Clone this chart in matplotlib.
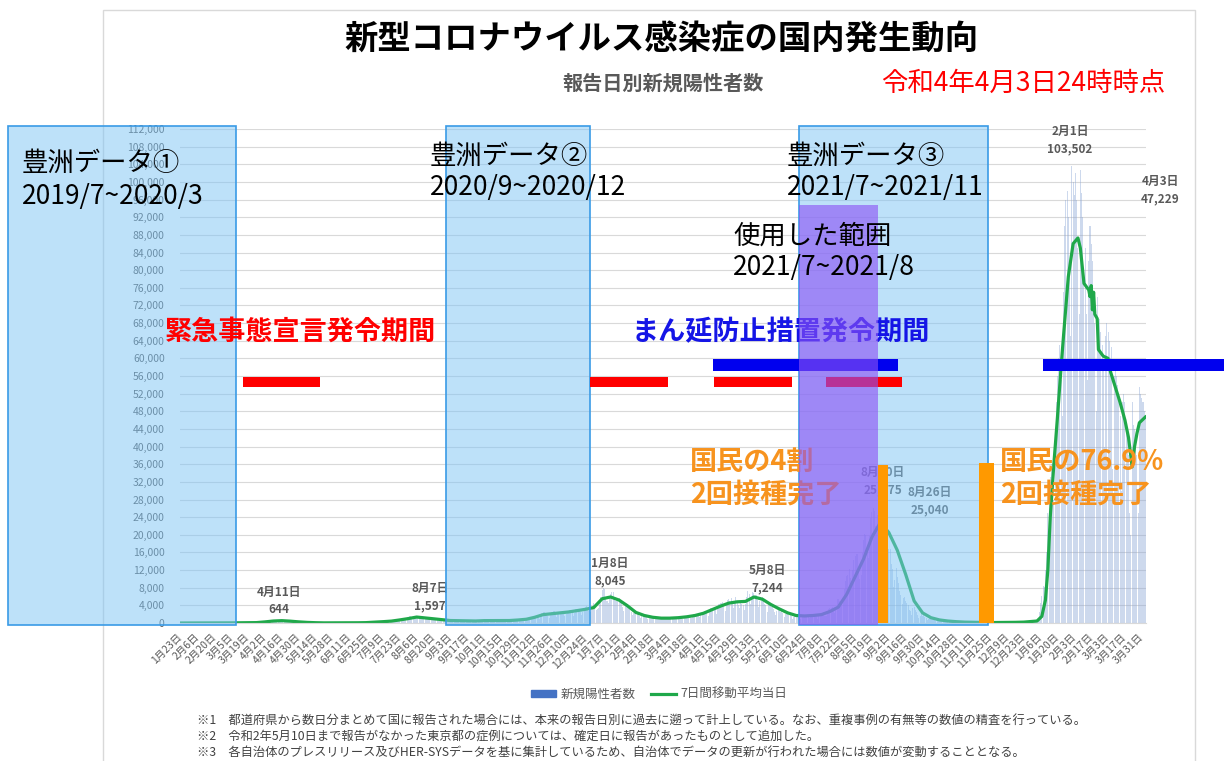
import numpy as np
import pandas as pd
import matplotlib
matplotlib.use('Agg')
import matplotlib.pyplot as plt
import matplotlib.transforms as mtransforms
from matplotlib.patches import Rectangle, Patch
from matplotlib.lines import Line2D
from matplotlib.ticker import FuncFormatter

plt.rcParams['font.family'] = ['Noto Sans CJK JP', 'DejaVu Sans']

# ---- daily new positive cases (報告日別新規陽性者数), 2020-01-23 .. 2022-04-03
cases_2020 = (
    [0, 1, 1, 0, 2, 1, 2, 3, 1] +
    [3, 2, 0, 1, 0, 1, 0, 3, 1, 0, 1, 2, 4, 1, 2, 1, 3, 5, 6, 4, 9, 12, 10, 8, 13, 20, 15, 10, 12] +
    [14, 20, 15, 25, 30, 35, 40, 38, 30, 35, 50, 45, 60, 40, 30, 55, 40, 38, 35, 45, 55, 40, 55, 90, 95, 100, 110, 200, 180, 100, 250] +
    [230, 260, 350, 320, 380, 280, 360, 510, 540, 580, 644, 480, 400, 500, 550, 580, 600, 560, 460, 370, 400, 390, 420, 440, 360, 280, 220, 230, 250, 180] +
    [170, 280, 200, 120, 130, 110, 100, 90, 110, 70, 80, 90, 60, 80, 70, 40, 50, 30, 25, 40, 30, 25, 20, 20, 35, 35, 30, 50, 40, 40, 30] +
    [25, 40, 35, 40, 45, 30, 45, 40, 45, 55, 40, 40, 45, 45, 60, 40, 70, 45, 60, 70, 55, 70, 50, 80, 90, 110, 100, 115, 85, 125] +
    [130, 150, 260, 270, 210, 180, 200, 300, 360, 430, 420, 400, 250, 330, 450, 610, 660, 670, 510, 420, 670, 790, 980, 780, 840, 600, 590, 980, 1260, 1300, 1580] +
    [1530, 1330, 1000, 970, 1360, 1480, 1597, 1430, 1030, 800, 1000, 1200, 1300, 1100, 1020, 890, 600, 900, 1120, 1100, 1000, 850, 700, 500, 700, 800, 870, 850, 760, 550, 410] +
    [550, 650, 600, 600, 550, 450, 350, 500, 550, 650, 620, 600, 480, 370, 450, 620, 600, 600, 450, 300, 350, 200, 400, 550, 560, 650, 450, 380, 520, 600] +
    [650, 600, 550, 500, 300, 500, 550, 620, 600, 520, 350, 420, 600, 700, 600, 550, 420, 350, 450, 500, 700, 650, 650, 480, 400, 550, 700, 800, 800, 900, 800] +
    [600, 550, 800, 500, 900, 1100, 1200, 1100, 800, 1200, 1550, 1650, 1700, 1700, 1400, 1000, 1700, 2200, 2400, 2400, 2300, 2200, 1500, 1200, 1900, 2500, 2500, 2700, 2000, 1400] +
    [2000, 2400, 2500, 2400, 2500, 2000, 1500, 2100, 2800, 2800, 3000, 2900, 2400, 1700, 2300, 3100, 3200, 2800, 2900, 2400, 1800, 2600, 3200, 3700, 3800, 3200, 2800, 2400, 3000, 3800, 4500]
)
cases_2021 = (
    [3200, 3000, 3100, 3300, 4900, 6000, 7500, 8045, 7800, 6000, 4900, 4500, 5800, 6600, 7100, 7000, 5800, 4900, 4900, 5500, 5700, 5000, 4700, 3600, 2700, 3800, 4000, 3900, 3500, 3300, 2600] +
    [1800, 2300, 2600, 2500, 2400, 2300, 1600, 1200, 1800, 1800, 1600, 1400, 1400, 1000, 1200, 1500, 1600, 1300, 1200, 1300, 1100, 1000, 900, 1100, 1100, 1200, 1100, 1000] +
    [1000, 900, 1200, 1300, 1100, 1200, 1100, 1000, 1300, 1400, 1400, 1300, 1300, 1000, 900, 1200, 1600, 1500, 1500, 1500, 1200, 1100, 1800, 2000, 2000, 2100, 2100, 1800, 1300, 1900, 2100] +
    [2500, 2800, 2700, 2500, 1500, 2600, 3500, 3400, 3500, 3700, 3000, 2100, 3400, 4300, 4600, 4500, 4800, 4100, 2800, 4300, 5300, 5500, 5100, 5600, 4500, 3300, 4800, 5800, 4800, 4000] +
    [3500, 4700, 4300, 4100, 3000, 4400, 6000, 7244, 6500, 4300, 5200, 7000, 6900, 6300, 6400, 5200, 3600, 5000, 5700, 5800, 5300, 4300, 4000, 2600, 4000, 4400, 4100, 3700, 3100, 2500, 1900] +
    [2800, 3000, 2800, 2600, 2700, 2200, 1300, 2000, 2100, 2000, 1900, 1900, 1600, 1000, 1400, 1800, 1600, 1600, 1700, 1500, 1000, 1400, 1700, 1800, 1700, 1700, 1300, 1100, 1500, 1700] +
    [1800, 1900, 1800, 1800, 1000, 1600, 2200, 2200, 2200, 2400, 1700, 1500, 2400, 3200, 3400, 3400, 3700, 3100, 2300, 3700, 5400, 5400, 4900, 4200, 4700, 4700, 7600, 9600, 10700, 10800, 12300] +
    [10100, 8400, 12000, 14200, 15200, 15700, 15700, 12000, 10000, 10800, 15800, 18800, 20200, 20000, 17000, 14700, 19800, 23900, 25100, 25975, 25500, 22000, 21600, 24400, 24900, 25040, 22700, 22700, 19200, 14200, 17300] +
    [20100, 16800, 16700, 13400, 12200, 8200, 9700, 12400, 10400, 9000, 7300, 6300, 4400, 5600, 6000, 5100, 4600, 4100, 3000, 2800, 1800, 3300, 3700, 3000, 2600, 1900, 1100, 1700, 2300, 1600] +
    [1900, 1400, 1100, 600, 1000, 1200, 1200, 1000, 900, 600, 400, 600, 750, 620, 600, 520, 430, 250, 400, 420, 400, 340, 290, 250, 150, 280, 300, 280, 250, 200, 100] +
    [100, 180, 150, 170, 160, 140, 100, 110, 170, 200, 200, 190, 150, 80, 80, 130, 150, 130, 140, 110, 50, 80, 100, 80, 100, 110, 120, 80, 100, 130] +
    [140, 110, 130, 130, 130, 100, 120, 150, 140, 140, 120, 110, 120, 150, 180, 190, 180, 220, 200, 190, 190, 270, 280, 250, 270, 200, 210, 380, 400, 490, 500]
)
cases_2022 = (
    [540, 550, 580, 1100, 2600, 4500, 6200, 8500, 8200, 12000, 16000, 25000, 30000, 33000, 36000, 30000, 28000, 42000, 50000, 56000, 60000, 63000, 55000, 47000, 75000, 90000, 96000, 98000, 92000, 80000, 65000] +
    [103502, 100000, 97000, 102000, 96000, 85000, 70000, 102700, 97500, 92000, 80000, 85000, 70000, 55000, 82000, 90000, 86000, 82000, 75000, 68000, 48000, 74000, 62000, 69000, 66000, 63000, 58000, 40000] +
    [65000, 68000, 66000, 64000, 60000, 62500, 35000, 56000, 58000, 56000, 54000, 51000, 47000, 30000, 50000, 52000, 50000, 45000, 42000, 38000, 25000, 20000, 50000, 45000, 44000, 42000, 38000, 25000, 53500, 52000, 51000] +
    [50000, 48000, 47229]
)

# ---- 7-day moving average (7日間移動平均当日): weekly from 2020-01-23, then denser in 2022
avg_weekly = [0, 1, 2, 3, 8, 14, 30, 45, 40, 90, 250, 450, 530, 420, 260, 140, 70, 30, 35, 40,
              45, 55, 85, 180, 300, 430, 700, 1000, 1350, 1150, 950, 750, 560, 520, 500, 460, 540, 540, 560, 560,
              680, 850, 1300, 1900, 2100, 2300, 2500, 2800, 3100, 3500,
              5500, 5900, 5200, 3900, 2400, 1700, 1300, 1100, 1100, 1200, 1400, 1700, 2200, 3000, 3800, 4500, 4800,
              4900, 5900, 5400, 4200, 3200, 2300, 1700, 1600, 1700, 1900, 2600, 3600, 6500, 10500, 14500, 19500,
              22800, 20500, 16500, 11000, 5000, 2300, 1200, 700, 450, 300, 200, 170, 150, 100, 110, 130, 150, 200, 350]
avg_2022_dates = ['2022-01-03', '2022-01-07', '2022-01-10', '2022-01-12', '2022-01-14', '2022-01-17', '2022-01-20',
                  '2022-01-23', '2022-01-25', '2022-01-29', '2022-02-02', '2022-02-06', '2022-02-08', '2022-02-11',
                  '2022-02-15', '2022-02-16', '2022-02-17', '2022-02-18', '2022-02-19', '2022-02-20', '2022-02-22',
                  '2022-02-23', '2022-02-27', '2022-03-03', '2022-03-05', '2022-03-09', '2022-03-13', '2022-03-17',
                  '2022-03-20', '2022-03-23', '2022-03-25', '2022-03-27', '2022-03-29', '2022-04-03']
avg_2022 = [450, 1500, 5200, 12000, 24000, 36000, 46700, 58000, 65000, 78500, 86000, 87300, 85000, 77000,
            75500, 74000, 76500, 71000, 75000, 70000, 69000, 62000, 60500, 60000, 57000, 53500, 50000, 46000,
            42000, 35400, 40000, 43000, 45400, 46700]

# peaks that carry a data label
peak_dates = ['2020-04-11', '2020-08-07', '2021-01-08', '2021-05-08', '2021-08-20', '2021-08-26', '2022-02-01', '2022-04-03']

# annotation periods
data_spans = [('2019-09-02', '2020-03-09'), ('2020-08-30', '2020-12-28'), ('2021-06-19', '2021-11-23')]
used_span = ('2021-06-19', '2021-08-24')
emergency_spans = [('2020-03-15', '2020-05-18'), ('2020-12-28', '2021-03-03'),
                   ('2021-04-10', '2021-06-14'), ('2021-07-12', '2021-09-13')]
mambou_spans = [('2021-04-09', '2021-09-10'), ('2022-01-08', '2022-06-07')]
vaccine_marks = [('2021-08-24', '2021-09-01', 35800), ('2021-11-16', '2021-11-28', 36300)]

START = pd.Timestamp('2020-01-23')
W, H = 1224, 761


def day(s):
    return (pd.Timestamp(s) - START).days


def fx(px):
    return px / W


def fy(py):
    return 1 - py / H


cases = np.array(cases_2020 + cases_2021 + cases_2022)
days = np.arange(len(cases))
dates = pd.date_range(START, periods=len(cases), freq='D')

wk_days = [(d - START).days for d in pd.date_range(START, periods=len(avg_weekly), freq='7D')]
line_x = wk_days + [day(s) for s in avg_2022_dates]
line_y = avg_weekly + avg_2022

fig = plt.figure(figsize=(12.24, 7.61), dpi=100)
ax = fig.add_axes([fx(180), fy(623), (1146 - 180) / W, (623 - 129) / H])

GRAY = '#595959'
GREEN = '#1fa84a'
BAR = '#4472c4'

ax.bar(days, cases, width=0.85, color='#8aa6d6', alpha=0.42, lw=0, zorder=1)
ax.plot(line_x, line_y, color=GREEN, lw=2.3, zorder=2)

ax.set_xlim(-0.5, len(cases) - 0.5)
ax.set_ylim(0, 112000)
ax.set_yticks(range(0, 112001, 4000))
ax.yaxis.set_major_formatter(FuncFormatter(lambda v, _: f'{int(v):,}'))
tick_idx = days[::14]
ax.set_xticks(tick_idx)
ax.set_xticklabels([f'{dates[i].month}月{dates[i].day}日' for i in tick_idx], rotation=45,
                   ha='right', va='center', rotation_mode='anchor')
ax.tick_params(axis='x', length=0, pad=9, labelsize=7.5, labelcolor=GRAY)
ax.tick_params(axis='y', length=0, pad=11, labelsize=7.5, labelcolor=GRAY)
ax.grid(axis='y', color='#d9d9d9', lw=0.8)
ax.set_axisbelow(True)
for s in ['top', 'right', 'left']:
    ax.spines[s].set_visible(False)
ax.spines['bottom'].set_color('#d9d9d9')

# data labels on the peaks
label_pos = [(279, 601), (430, 597), (610, 572), (767, 579), (883, 481), (930, 501), (1070, 140), (1160, 190)]
for d, (px, py) in zip(peak_dates, label_pos):
    t = pd.Timestamp(d)
    ax.text(fx(px), fy(py), f'{t.month}月{t.day}日\n{cases[day(d)]:,}', transform=fig.transFigure,
            ha='center', va='center', fontsize=8.5, fontweight='bold', color=GRAY, linespacing=1.4,
            zorder=3, clip_on=False)

# overlays
blend = mtransforms.blended_transform_factory(ax.transData, ax.transAxes)
for a, b in data_spans:
    ax.add_patch(Rectangle((day(a), -0.004), day(b) - day(a), 1.01, transform=blend,
                           facecolor=(0.49, 0.77, 0.96, 0.5), edgecolor='#3a9be6', lw=1.2,
                           clip_on=False, zorder=5))

for a, b in emergency_spans:
    ax.add_patch(Rectangle((day(a), 54640 - 1130), day(b) - day(a), 2260, color='#ff0000',
                           lw=0, clip_on=False, zorder=6))
for a, b in mambou_spans:
    ax.add_patch(Rectangle((day(a), 58500 - 1360), day(b) - day(a), 2720, color='#0000ee',
                           lw=0, clip_on=False, zorder=6))

ax.text(fx(632), fy(332), 'まん延防止措置発令期間', transform=fig.transFigure, fontsize=19.5,
        fontweight='bold', color='#1515e6', va='center', zorder=6, clip_on=False)
ax.text(fx(690), fy(478), '国民の4割\n2回接種完了', transform=fig.transFigure, fontsize=19.5,
        fontweight='bold', color='#f7931e', va='center', linespacing=1.2, zorder=6, clip_on=False)

ax.add_patch(Rectangle((day(used_span[0]), -0.004), day(used_span[1]) - day(used_span[0]), 0.85,
                       transform=blend, facecolor=(0.55, 0.32, 0.96, 0.62), lw=0,
                       clip_on=False, zorder=7))

for a, b, top in vaccine_marks:
    ax.add_patch(Rectangle((day(a), 0), day(b) - day(a), top, color='#ff9900', lw=0,
                           clip_on=False, zorder=8))

ax.text(fx(22), fy(180), '豊洲データ①\n2019/7~2020/3', transform=fig.transFigure, fontsize=19,
        va='center', linespacing=1.25, zorder=9, clip_on=False)
ax.text(fx(430), fy(172), '豊洲データ②\n2020/9~2020/12', transform=fig.transFigure, fontsize=19,
        va='center', linespacing=1.2, zorder=9, clip_on=False)
ax.text(fx(787), fy(172), '豊洲データ③\n2021/7~2021/11', transform=fig.transFigure, fontsize=19,
        va='center', linespacing=1.2, zorder=9, clip_on=False)
ax.text(fx(733), fy(252), '使用した範囲\n2021/7~2021/8', transform=fig.transFigure, fontsize=19,
        va='center', linespacing=1.2, zorder=9, clip_on=False)
ax.text(fx(165), fy(332), '緊急事態宣言発令期間', transform=fig.transFigure, fontsize=19.5,
        fontweight='bold', color='#ff0000', va='center', zorder=9, clip_on=False)
ax.text(fx(1000), fy(478), '国民の76.9%\n2回接種完了', transform=fig.transFigure, fontsize=19.5,
        fontweight='bold', color='#f7931e', va='center', linespacing=1.2, zorder=9, clip_on=False)

# legend
handles = [Patch(color=BAR), Line2D([], [], color=GREEN, lw=2.3)]
ax.legend(handles, ['新規陽性者数', '7日間移動平均当日'], loc='center', bbox_to_anchor=(fx(659), fy(694)),
          bbox_transform=fig.transFigure, ncol=2, frameon=False, fontsize=9, labelcolor=GRAY,
          handlelength=2.0, handleheight=0.5, handletextpad=0.4, columnspacing=1.2)

# titles
fig.text(fx(662), fy(40), '新型コロナウイルス感染症の国内発生動向', fontsize=24, fontweight='bold',
         ha='center', va='center')
fig.text(fx(663), fy(83), '報告日別新規陽性者数', fontsize=14.5, fontweight='bold', color=GRAY,
         ha='center', va='center')
fig.text(fx(1023), fy(83), '令和4年4月3日24時時点', fontsize=19, color='#ff0000', ha='center', va='center')

notes = ['※1　都道府県から数日分まとめて国に報告された場合には、本来の報告日別に過去に遡って計上している。なお、重複事例の有無等の数値の精査を行っている。',
         '※2　令和2年5月10日まで報告がなかった東京都の症例については、確定日に報告があったものとして追加した。',
         '※3　各自治体のプレスリリース及びHER-SYSデータを基に集計しているため、自治体でデータの更新が行われた場合には数値が変動することとなる。']
for i, n in enumerate(notes):
    fig.text(fx(197), fy(720 + 16 * i), n, fontsize=8.8, color='#404040', va='center')

# light frame around the original chart
fig.patches.append(Rectangle((fx(103), -0.01), (1195 - 103) / W, 1 - 10 / H + 0.01, fill=False,
                             edgecolor='#d9d9d9', lw=1, transform=fig.transFigure, zorder=-1))

fig.savefig('out.png', dpi=100)
